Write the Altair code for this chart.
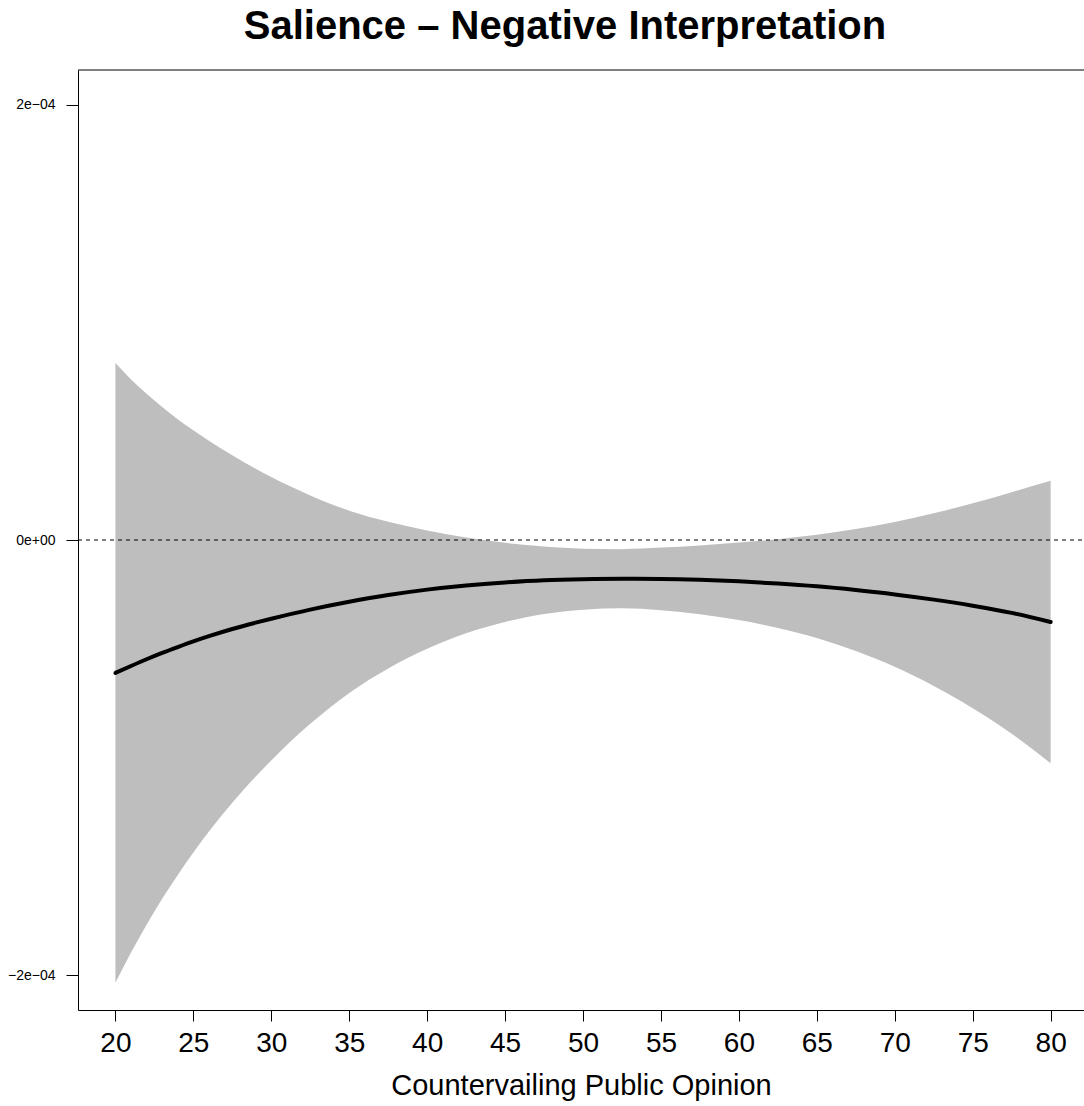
import altair as alt
import pandas as pd

# Countervailing public opinion (x) and marginal effect estimates
opinion = [20, 21, 22, 23, 24, 25, 26, 27.5, 29, 30, 32.5, 35, 37.5, 40, 42.5, 45,
           47.5, 50, 52.5, 55, 57.5, 60, 62.5, 65, 67.5, 70, 72.5, 75, 77.5, 80]

effect = [-6.11e-5, -5.79e-5, -5.48e-5, -5.19e-5, -4.92e-5, -4.66e-5, -4.42e-5, -4.09e-5,
          -3.80e-5, -3.62e-5, -3.20e-5, -2.84e-5, -2.53e-5, -2.28e-5, -2.09e-5, -1.95e-5,
          -1.85e-5, -1.80e-5, -1.78e-5, -1.79e-5, -1.83e-5, -1.90e-5, -2.00e-5, -2.13e-5,
          -2.30e-5, -2.50e-5, -2.74e-5, -3.02e-5, -3.35e-5, -3.77e-5]

upper = [8.13e-5, 7.38e-5, 6.72e-5, 6.11e-5, 5.55e-5, 5.04e-5, 4.56e-5, 3.89e-5,
         3.27e-5, 2.89e-5, 2.05e-5, 1.35e-5, 0.84e-5, 0.44e-5, 0.11e-5, -0.13e-5,
         -0.30e-5, -0.40e-5, -0.42e-5, -0.35e-5, -0.25e-5, -0.12e-5, 0.04e-5, 0.24e-5,
         0.50e-5, 0.83e-5, 1.23e-5, 1.69e-5, 2.20e-5, 2.72e-5]

lower = [-20.35e-5, -18.96e-5, -17.68e-5, -16.49e-5, -15.39e-5, -14.36e-5, -13.40e-5, -12.07e-5,
         -10.87e-5, -10.13e-5, -8.45e-5, -7.03e-5, -5.90e-5, -5.00e-5, -4.29e-5, -3.77e-5,
         -3.40e-5, -3.20e-5, -3.14e-5, -3.23e-5, -3.41e-5, -3.68e-5, -4.04e-5, -4.50e-5,
         -5.10e-5, -5.83e-5, -6.71e-5, -7.73e-5, -8.90e-5, -10.26e-5]

xtick_values = [20, 25, 30, 35, 40, 45, 50, 55, 60, 65, 70, 75, 80]
ytick_values = [-2e-4, 0, 2e-4]
ytick_labels = ["\u22122e\u221204", "0e+00", "2e\u221204"]

title_text = "Salience \u2013 Negative Interpretation"
x_title = "Countervailing Public Opinion"

df = pd.DataFrame({"x": opinion, "est": effect, "lo": lower, "hi": upper})

W, H = 1006, 940

label_expr = "''"
for v, lab in zip(ytick_values, ytick_labels):
    label_expr = f"abs(datum.value - ({v})) < 1e-9 ? '{lab}' : ({label_expr})"

xscale = alt.Scale(domain=[17.6, 82.14], nice=False, zero=False)
yscale = alt.Scale(domain=[-2.16e-4, 2.16e-4], nice=False, zero=False)

xaxis = alt.Axis(values=xtick_values, title=x_title, grid=False, tickSize=11,
                 labelFontSize=28, labelPadding=8, titleFontSize=29,
                 titleFontWeight="normal", titlePadding=14, domainColor="black",
                 tickColor="black", labelColor="black", titleColor="black",
                 labelFlush=False, labelOverlap=False)
yaxis = alt.Axis(values=ytick_values, title=None, grid=False, tickSize=12,
                 labelFontSize=14, labelPadding=11, labelExpr=label_expr,
                 domainColor="black", tickColor="black", labelColor="black",
                 labelFlush=False, labelOverlap=False)

base = alt.Chart(df)

band = base.mark_area(color="#BEBEBE", opacity=1, interpolate="monotone").encode(
    x=alt.X("x:Q", scale=xscale, axis=xaxis),
    y=alt.Y("lo:Q", scale=yscale, axis=yaxis),
    y2="hi:Q",
)

line = base.mark_line(color="black", strokeWidth=4, strokeCap="round",
                      interpolate="monotone").encode(
    x="x:Q",
    y="est:Q",
)

zero = alt.Chart(pd.DataFrame({"z": [0]})).mark_rule(
    color="black", strokeWidth=1, strokeDash=[4, 4]).encode(
    y="z:Q",
    x=alt.value(0),
    x2=alt.value(W),
)

top_border = alt.Chart(pd.DataFrame({"z": [0]})).mark_rule(
    color="black", strokeWidth=1).encode(
    y=alt.value(0),
    x=alt.value(0),
    x2=alt.value(W),
)

chart = alt.layer(band, line, zero, top_border).properties(
    width=W,
    height=H,
    autosize=alt.AutoSizeParams(type="none"),
    padding={"left": 78, "top": 70, "right": 0, "bottom": 96},
    title=alt.TitleParams(title_text, fontSize=40, fontWeight="bold",
                          font="Liberation Sans", anchor="middle", dx=-16, dy=37,
                          baseline="alphabetic", offset=28, frame="group",
                          color="black"),
).configure(
    font="Liberation Sans",
    background="white",
).configure_view(strokeWidth=0)

chart.save("out.html", embed_options={"renderer": "svg", "actions": False})
